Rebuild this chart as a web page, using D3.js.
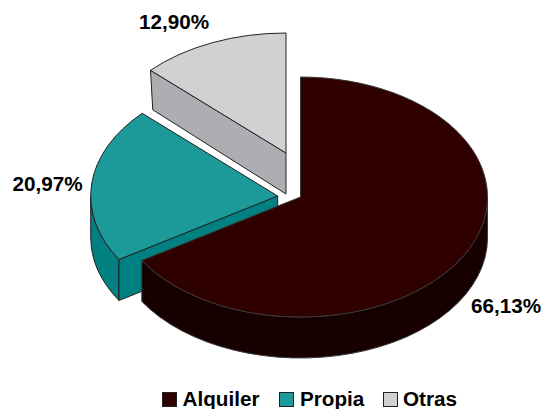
<!DOCTYPE html>
<html>
<head>
<meta charset="utf-8">
<script src="https://cdn.jsdelivr.net/npm/d3@7"></script>
<style>
  html, body { margin: 0; padding: 0; background: #fff; }
  text { font-family: "Liberation Sans", Arial, sans-serif; font-weight: bold; fill: #000; }
</style>
</head>
<body>
<script>
'use strict';

const categories = ['Alquiler', 'Propia', 'Otras'];
const shares = [66.13, 20.97, 12.90];
const valueLabels = ['66,13%', '20,97%', '12,90%'];

const topColors = ['#2f0000', '#1c9999', '#d0d1d3'];
const wallColors = ['#170000', '#008080', '#adaeb2'];
const edgeColors = ['#3a3a3a', '#222222', '#222222'];

const width = 543, height = 409;
const center = { x: 300.5, y: 197 };
const rx = 187, ry = 120, depth = 41;

// how far each slice is pulled out of the pie
const explode = [[0, 0], [-22.8, -1], [-14.5, -44]];
// small lean of the cut face bottom, the original has some perspective
const faceLean = [0, 0, 0.0175];
const labelPos = [[506, 313], [47.5, 191], [174, 29]];
const legendX = [162, 279, 383];
const legendTextX = [182.5, 300, 403];

const svg = d3.select('body').append('svg')
  .attr('width', width)
  .attr('height', height);

const arcs = d3.pie().sort(null).value(d => d)(shares);

// point on the rim of a slice
function rim(i, a, dy) {
  return [
    center.x + explode[i][0] + rx * Math.sin(a),
    center.y + explode[i][1] - ry * Math.cos(a) + (dy || 0)
  ];
}

function topPath(i) {
  const d = arcs[i];
  const apex = rim(i, 0);
  apex[1] += ry;
  const p0 = rim(i, d.startAngle), p1 = rim(i, d.endAngle);
  const large = d.endAngle - d.startAngle > Math.PI ? 1 : 0;
  return `M${apex}L${p0}A${rx},${ry} 0 ${large} 1 ${p1}Z`;
}

// outer wall, only the part that faces the viewer
function wallPath(i) {
  const d = arcs[i];
  const a0 = Math.max(d.startAngle, Math.PI / 2);
  const a1 = Math.min(d.endAngle, Math.PI * 1.5);
  if (a1 <= a0) return null;
  return `M${rim(i, a0)}A${rx},${ry} 0 0 1 ${rim(i, a1)}L${rim(i, a1, depth)}A${rx},${ry} 0 0 0 ${rim(i, a0, depth)}Z`;
}

// cut face at the start of a slice
function facePath(i) {
  const d = arcs[i];
  if (d.startAngle <= Math.PI) return null;
  const apex = rim(i, 0);
  apex[1] += ry;
  return `M${apex}L${rim(i, d.startAngle)}L${rim(i, d.startAngle + faceLean[i], depth)}L${apex[0]},${apex[1] + depth}Z`;
}

// back to front so the main slice lies on top
[2, 1, 0].forEach(i => {
  const g = svg.append('g')
    .attr('stroke', edgeColors[i])
    .attr('stroke-width', 1)
    .attr('stroke-linejoin', 'round');
  const wall = wallPath(i), face = facePath(i);
  if (wall) g.append('path').attr('d', wall).attr('fill', wallColors[i]);
  if (face) g.append('path').attr('d', face).attr('fill', wallColors[i]);
  g.append('path').attr('d', topPath(i)).attr('fill', topColors[i]);
});

svg.selectAll('.value-label')
  .data(valueLabels)
  .enter()
  .append('text')
    .attr('class', 'value-label')
    .attr('x', (d, i) => labelPos[i][0])
    .attr('y', (d, i) => labelPos[i][1])
    .attr('text-anchor', 'middle')
    .style('font-size', '20.7px')
    .text(d => d);

// legend
const legend = svg.selectAll('.legend')
  .data(categories)
  .enter()
  .append('g')
    .attr('class', 'legend');

legend.append('rect')
  .attr('x', (d, i) => legendX[i] + 0.5)
  .attr('y', 392.5)
  .attr('width', 14)
  .attr('height', 14)
  .attr('fill', (d, i) => topColors[i])
  .attr('stroke', '#222');

legend.append('text')
  .attr('x', (d, i) => legendTextX[i])
  .attr('y', 406)
  .style('font-size', '20.7px')
  .text(d => d);
</script>
</body>
</html>
